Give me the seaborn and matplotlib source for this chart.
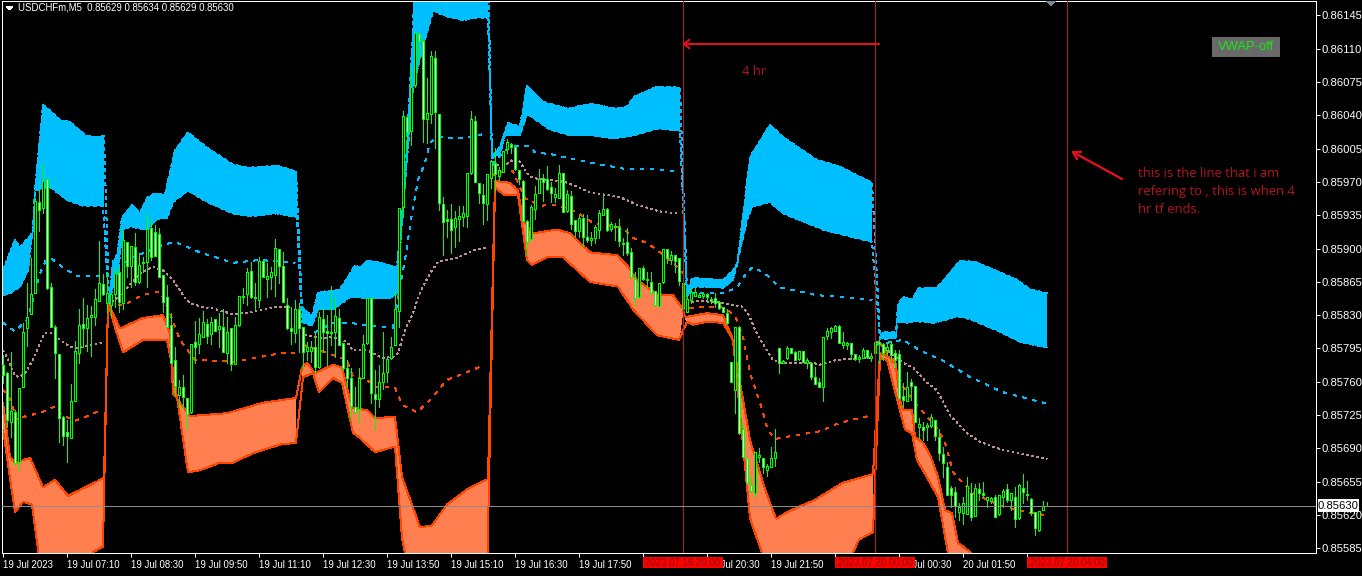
import numpy as np
import pandas as pd
import seaborn as sns
import matplotlib
matplotlib.use("Agg")
import matplotlib.pyplot as plt
from matplotlib.patches import Rectangle, Polygon, FancyArrowPatch

# ---- candle quotes in points (1 point = 0.00001), one per M5 bar ----
OPEN = [85778,85769,85718,85728,85676,85755,85816,85831,85853,85949,
85943,85973,85860,85818,85789,85723,85707,85701,85740,85790,
85821,85817,85828,85828,85845,85863,85843,85841,85852,85875,
85843,85907,85882,85902,85865,85886,85886,85922,85917,85915,
85872,85849,85820,85783,85746,85755,85743,85728,85802,85800,
85807,85821,85810,85826,85815,85818,85790,85816,85779,85820,
85849,85852,85876,85849,85846,85887,85868,85870,85872,85900,
85882,85841,85817,85811,85837,85818,85792,85792,85797,85776,
85826,85813,85812,85812,85827,85801,85775,85764,85734,85731,
85764,85801,85848,85747,85742,85760,85770,85785,85799,85834,
85944,86038,86023,86072,86125,86118,86036,86041,86100,86041,
85947,85931,85931,85923,85931,85933,85934,85979,86034,85969,
85956,85947,85974,85990,85976,85980,86005,86010,86007,85983,
85971,85929,85910,85942,85958,85974,85973,85965,85954,85953,
85979,85939,85955,85930,85918,85932,85912,85909,85911,85920,
85935,85942,85921,85923,85923,85906,85907,85896,85868,85849,
85880,85868,85865,85855,85840,85865,85900,85888,85893,85890,
85864,85833,85846,85850,85849,85850,85852,85847,85848,85844,
85839,85832,85781,85751,85818,85710,85680,85652,85643,85681,
85680,85667,85670,85680,85796,85780,85785,85796,85791,85784,
85792,85780,85780,85765,85760,85754,85808,85812,85813,85819,
85799,85799,85801,85789,85784,85785,85793,85785,85790,85802,
85800,85793,85800,85790,85789,85745,85740,85760,85756,85713,
85712,85712,85714,85720,85702,85684,85670,85648,85644,85623,
85622,85621,85643,85619,85647,85643,85636,85635,85639,85621,
85639,85647,85636,85639,85617,85648,85642,85637,85623,85604,85625,85629]
HIGH = [85788,85770,85791,85730,85753,85822,85864,85890,85953,85961,
85990,85974,85864,85820,85789,85724,85720,85758,85803,85836,
85848,85841,85840,85858,85908,85873,85875,85852,85880,85881,
85920,85907,85903,85916,85893,85891,85937,85930,85925,85922,
85872,85862,85832,85797,85762,85767,85743,85800,85824,85827,
85834,85826,85828,85826,85832,85836,85828,85817,85828,85850,
85859,85880,85886,85864,85891,85888,85885,85881,85910,85900,
85896,85848,85839,85846,85843,85818,85802,85803,85813,85833,
85838,85830,85861,85848,85837,85801,85783,85775,85755,85775,
85809,85848,85848,85772,85778,85812,85786,85807,85853,85943,
86045,86039,86091,86127,86126,86119,86079,86108,86108,86041,
85954,85941,85947,85939,85945,85945,85979,86044,86039,85969,
85968,85978,85993,86006,85986,86002,86015,86011,86007,85983,
85972,85930,85946,85966,85984,85978,85987,85970,85964,85988,
85979,85961,85960,85930,85935,85936,85935,85917,85925,85940,
85955,85943,85928,85927,85931,85911,85922,85901,85875,85880,
85882,85875,85875,85855,85864,85900,85900,85897,85893,85890,
85865,85853,85859,85859,85853,85854,85853,85849,85853,85845,
85839,85836,85781,85818,85818,85717,85680,85660,85686,85690,
85680,85674,85691,85710,85796,85783,85798,85796,85792,85792,
85792,85785,85780,85776,85764,85807,85817,85818,85820,85820,
85812,85802,85801,85789,85788,85795,85793,85790,85802,85804,
85801,85801,85803,85793,85793,85759,85770,85763,85756,85722,
85718,85717,85726,85720,85710,85691,85676,85650,85649,85633,
85639,85660,85654,85653,85654,85655,85639,85639,85641,85641,
85647,85653,85643,85649,85653,85663,85656,85638,85623,85624,85635,85634]
LOW = [85759,85712,85702,85673,85667,85755,85798,85831,85853,85918,
85937,85858,85818,85764,85697,85694,85676,85701,85740,85780,
85797,85792,85787,85820,85845,85851,85833,85828,85839,85833,
85836,85870,85860,85862,85864,85875,85860,85888,85892,85870,
85833,85818,85780,85746,85734,85731,85710,85727,85780,85790,
85807,85801,85800,85813,85797,85791,85780,85772,85779,85819,
85843,85841,85848,85836,85839,85870,85849,85857,85850,85864,
85844,85815,85800,85802,85791,85772,85783,85781,85769,85774,
85791,85778,85799,85786,85799,85772,85755,85720,85728,85718,
85764,85800,85738,85710,85733,85752,85760,85784,85799,85818,
85933,86001,86009,86070,86098,86012,86011,86032,86006,85941,
85893,85912,85895,85902,85908,85924,85923,85978,85970,85948,
85926,85930,85964,85959,85972,85980,86000,86000,85983,85968,
85929,85893,85909,85931,85958,85950,85962,85949,85949,85953,
85938,85938,85921,85913,85912,85903,85907,85904,85906,85911,
85935,85918,85918,85909,85903,85893,85893,85869,85841,85848,
85867,85860,85852,85840,85839,85864,85885,85884,85875,85862,
85825,85833,85843,85850,85849,85848,85846,85843,85839,85837,
85833,85822,85760,85727,85705,85681,85653,85643,85639,85676,
85664,85661,85670,85671,85769,85780,85784,85790,85783,85783,
85781,85774,85763,85758,85754,85740,85805,85806,85813,85801,
85795,85794,85784,85783,85781,85785,85785,85782,85781,85780,
85783,85788,85783,85776,85743,85733,85740,85741,85718,85701,
85699,85699,85713,85699,85678,85660,85641,85628,85618,85615,
85611,85621,85615,85619,85636,85639,85628,85633,85618,85620,
85629,85634,85625,85607,85616,85633,85636,85620,85599,85603,85625,85629]
CLOSE = [85767,85720,85729,85675,85753,85812,85828,85852,85950,85940,
85971,85859,85818,85790,85722,85703,85703,85740,85792,85820,
85816,85827,85830,85847,85864,85852,85853,85852,85874,85844,
85909,85882,85903,85865,85883,85885,85921,85891,85892,85870,
85844,85818,85780,85756,85754,85744,85726,85800,85797,85810,
85823,85808,85823,85813,85819,85791,85812,85779,85820,85850,
85850,85875,85849,85848,85887,85870,85871,85875,85901,85882,
85844,85816,85813,85837,85817,85791,85797,85797,85776,85828,
85812,85811,85811,85829,85799,85775,85764,85735,85728,85764,
85800,85848,85748,85742,85760,85769,85784,85797,85837,85943,
86039,86022,86070,86127,86118,86036,86042,86102,86043,85948,
85928,85929,85920,85932,85934,85937,85979,86036,85970,85958,
85948,85978,85992,85978,85983,86002,86012,86007,85984,85973,
85929,85907,85944,85957,85973,85970,85963,85958,85957,85979,
85938,85957,85926,85918,85932,85912,85909,85911,85923,85937,
85942,85920,85926,85924,85908,85905,85895,85870,85848,85880,
85868,85867,85853,85841,85864,85900,85890,85893,85887,85866,
85836,85847,85854,85854,85851,85852,85849,85845,85843,85838,
85833,85822,85760,85818,85706,85681,85654,85645,85686,85683,
85670,85671,85680,85686,85780,85782,85796,85790,85783,85792,
85781,85783,85765,85758,85754,85807,85813,85817,85819,85801,
85802,85801,85789,85784,85786,85793,85786,85787,85802,85800,
85790,85797,85788,85783,85743,85741,85755,85756,85718,85716,
85709,85715,85723,85703,85685,85675,85641,85641,85629,85628,
85633,85650,85618,85648,85643,85641,85639,85638,85618,85641,
85645,85636,85643,85616,85652,85644,85641,85622,85606,85624,85630,85630]

# ---- VWAP deviation bands and lines: bar position, price in points ----
BLUE_TOP_BAR = [0,3,4.25,7.5,8,10,11.75,14.25,16.75,20.5,23,25.25,
 26.5,27.5,28.5,29.75,32.25,34.25,36,38,40.5,43,46.25,51,57.5,61.75,68.5,73.25,
 74.75,77.25,78.75,84.25,88,89.25,91,93.5,98.5,99.25,100.5,102.5,103,121.25,
 122.25,124.25,126.25,129.25,131,135,141.25,146.75,153.5,156,158,163.5,169.25,
 171,172.25,180,183.5,186.75,191.75,195,203.5,209.25,217.25,
 219.25,220,223.25,223.75,225,227.25,228.75,233.5,235.25,239.25,243,249.25,253.5,256.75,261]
BLUE_TOP = [85877,85909,85901,85917,85961,86051,86045,86035,86033,86019,86017,86018,
 85846,85886,85893,85932,85946,85937,85953,85958,85957,86003,86022,86006,85988,85985,85987,85981,
 85838,85829,85854,85857,85882,85880,85887,85886,85880,85916,85972,86130,86192,86192,
 85996,86007,86032,86028,86071,86054,86047,86052,86047,86049,86060,86070,86069,
 85853,85869,85867,85881,85996,86030,86017,85993,85986,85969,
 85807,85812,85812,85841,85849,85846,85858,85859,85867,85887,85886,85875,85867,85857,85853]
BLUE_IN_BAR = [0,1.75,4.25,6.25,7.5,8,11.75,16,20,25,
 26.5,27.5,28.75,30,31.75,36,38.5,41,42.5,46.25,51,57.5,61.75,68.5,73.5,
 74.75,77.25,78.75,82.5,86.75,91.75,96.75,98.5,100,102.5,104.75,107.5,111,115,119.25,121.25,
 122.25,124.25,125.5,129.25,131,136.75,141.75,147.5,152.5,156.75,163.5,169.25,
 171,172.5,180,182.5,186,187.25,191.75,195,205,217.25,
 219.25,223.25,223.5,226.75,227.5,232.5,235.5,238.5,241.75,248.5,254.25,261]
BLUE_IN = [85851,85853,85860,85877,85923,85961,85965,85951,85945,85945,
 85841,85862,85877,85920,85923,85920,85931,85932,85949,85961,85949,85937,85934,85937,85933,
 85823,85819,85836,85836,85849,85848,85848,85853,85944,86070,86108,86150,86144,86140,86143,86142,
 85995,86000,86019,86019,86042,86025,86019,86019,86016,86018,86026,86024,
 85849,85860,85859,85867,85930,85944,85949,85937,85920,85907,
 85805,85806,85823,85822,85824,85822,85825,85829,85826,85814,85802,85796]
CORAL_IN_BAR = [0,1.75,3,6.75,10,13,16.25,21,25.25,
 26.25,29.25,35,40,41.75,42.5,46.75,56,65,73.25,
 74.75,76,78,82.5,84.75,87.25,91,93,98,99.75,104.25,107.25,111,116,121.25,
 123,126.75,128.75,130,132.5,138.5,141.75,146.75,153.5,156.25,158.5,163.5,167.5,170,
 170.5,176,180,182.25,186.75,190.5,193.25,196,203,210,217.5,
 219.25,223,224.25,225,227.25,228,230,231.75,233.75,235.5,237.25,238.75,241.75,244.25,261]
CORAL_IN = [85738,85681,85675,85680,85649,85657,85640,85650,85659,
 85843,85816,85827,85830,85811,85748,85724,85727,85738,85743,
 85775,85780,85769,85778,85775,85733,85730,85722,85723,85660,85607,85609,85631,85647,85658,
 85971,85969,85961,85930,85916,85920,85916,85896,85893,85881,85867,85852,85851,85836,
 85828,85832,85830,85807,85699,85647,85616,85623,85636,85654,85663,
 85790,85783,85741,85730,85730,85702,85696,85683,85660,85625,85622,85591,85581,85562,85531]
CORAL_LOW_BAR = [0,3,5,7.25,9.75,21.75,22.5,25,
 26.25,28,30,35,41,42.5,46.25,49.25,54.25,57.5,62.5,69.25,73.25,
 75,77.5,79,82.5,84.75,87.5,89.25,93,98,99.75,101.75,121,
 123,125.5,128.75,131,132.25,136,140,146.75,153.75,157.5,163.5,169,
 171,172.5,176,180,182.5,186.75,189.75,191.25,209.25,214,217.5,
 219.25,221,223.75,225.5,227.25,228.5,231.75,233.75,236.25,238,261]
CORAL_LOW = [85710,85623,85634,85631,85552,85552,85581,85587,
 85843,85817,85791,85804,85804,85772,85665,85667,85675,85675,85685,85694,85696,
 85765,85769,85749,85764,85759,85706,85701,85686,85692,85596,85552,85552,
 85964,85956,85956,85888,85883,85891,85891,85865,85860,85836,85809,85804,
 85823,85820,85823,85822,85804,85617,85580,85552,85552,85594,85602,
 85785,85783,85738,85710,85706,85678,85654,85639,85580,85552,85489]
MID_BAR = [0,1,2,3,4.25,5.5,7.5,9.75,10.5,12.25,14.25,16,18,21,24.75,
 26.25,28,30.5,34.25,37.5,40,42.5,45.5,46.75,49.25,52.5,57.5,61.75,68.5,71.75,
 75.5,79.25,82.25,86,87.5,91.25,94.75,97.5,98.75,100.5,102.5,104.25,106.75,108.75,113.5,117.5,121,
 122.25,125.5,126.75,128,129.25,131,132.5,140.5,146.75,154.25,158.5,164.25,168.75,
 171,174.25,180,184.75,186.25,188,190.5,192.5,194.25,202.5,204.25,208.5,216.75,
 218.5,225,227.5,231,233.5,236.75,241,244.25,250,256,261]
MID = [85793,85786,85776,85766,85765,85769,85783,85806,85811,85811,85804,85799,85795,85798,85801,
 85841,85846,85856,85874,85881,85877,85867,85848,85843,85839,85837,85831,85833,85839,85839,
 85809,85806,85807,85802,85793,85793,85785,85786,85790,85814,85832,85854,85874,85886,85890,85898,85901,
 85988,85988,85991,85995,85991,85979,85974,85970,85959,85954,85946,85939,85937,
 85843,85845,85843,85839,85832,85815,85796,85783,85780,85780,85778,85783,85785,
 85802,85780,85775,85759,85751,85725,85706,85697,85688,85683,85679]
DEV_UP_BAR = [0,3,6,7.5,9.25,10.75,12.25,15,18.5,22.5,24.75,
 28,31.75,35,40,43,49.25,57.5,64.25,73,
 78,82.5,86.75,90,96.75,97.5,99.25,100.5,102.25,103.75,105.5,106.75,108.5,112.5,116.25,121,
 122.25,125.5,128,130,131.75,133,137.25,142.5,148.5,155,161.75,168,
 171.75,180,183.5,186,187.5,191,194.25,203.5,212.5,217.25,
 218.5,223.75,225,229.25,235.5,241.75,250,261]
DEV_UP = [85822,85813,85825,85846,85874,85888,85889,85880,85871,85871,85872,
 85877,85890,85895,85904,85907,85896,85885,85888,85885,
 85812,85822,85822,85820,85817,85817,85860,85888,85937,85972,85990,86011,86017,86016,86017,86021,
 85988,86003,86008,86008,86007,86001,85999,85994,85989,85984,85984,85981,
 85853,85853,85859,85875,85881,85872,85859,85851,85848,85846,
 85799,85803,85804,85793,85781,85765,85749,85737]
DEV_DN_BAR = [0,1.75,3.5,5,9.75,13,14.75,18,21.25,24.75,
 26.25,30.5,34.25,37.5,39.25,41.75,44.25,48,52.5,57.5,64.25,69.25,73,
 75,80.5,86,87.5,91,93.5,98,99.75,103.5,106.75,111,116,120,
 122.25,125.5,127.5,130.5,134.25,138.5,143.5,147.5,155,157.5,161,164.25,167.5,170,
 171.75,175,180,183,185,186.75,189.25,191.25,193,198.5,204.25,209.25,217.25,
 219.25,222.5,225,228.75,233.75,235.5,237.5,239.25,242.5,246,250,256,260.5]
DEV_DN = [85752,85741,85720,85723,85728,85734,85725,85719,85724,85731,
 85841,85841,85850,85854,85855,85832,85804,85783,85782,85781,85786,85790,85790,
 85799,85791,85783,85765,85762,85754,85754,85736,85728,85741,85762,85770,85777,
 85977,85982,85981,85953,85945,85946,85938,85927,85922,85911,85906,85896,85885,85874,
 85837,85839,85838,85830,85807,85769,85738,85709,85700,85704,85708,85717,85725,
 85801,85780,85755,85734,85710,85696,85665,85657,85643,85636,85629,85623,85620]
SESSION_EDGES = [0, 26, 74.5, 122, 170.25, 218, 262]
H4_CLOSE_BARS = [170, 218, 266]
H4_LABELS = ["2023.07.19 20:00", "2023.07.20 00:00", "2023.07.20 04:00"]
TIME_LABELS = ["19 Jul 2023","19 Jul 07:10","19 Jul 08:30","19 Jul 09:50","19 Jul 11:10",
 "19 Jul 12:30","19 Jul 13:50","19 Jul 15:10","19 Jul 16:30","19 Jul 17:50","19 Jul 19:10",
 "19 Jul 20:30","19 Jul 21:50","19 Jul 23:10","20 Jul 00:30","20 Jul 01:50","20 Jul 03:10"]
TIME_TICK_BARS = list(range(0, 257, 16))
PRICE_TICKS = [85585 + 35 * i for i in range(17)]
LAST_PRICE = 85630

W, H = 1362, 576
sns.set_theme(style="ticks", rc={"figure.facecolor": "black", "axes.facecolor": "black",
                                 "savefig.facecolor": "black", "axes.edgecolor": "white"})
plt.rcParams["font.family"] = ["Liberation Sans", "DejaVu Sans"]
PX = 0.72  # one pixel in points at 100 dpi

fig = plt.figure(figsize=(W / 100, H / 100), dpi=100)
ax = fig.add_axes([2 / W, (H - 553) / H, 1314 / W, 552 / H])
ax.set_xlim(-0.25, 328.25)
ax.set_ylim(0.855801, 0.861601)
for s in ax.spines.values():
    s.set_color("white")
    s.set_linewidth(PX)

def fx(px):
    return px / W
def fy(py):
    return 1 - py / H

def scale(values):
    return np.asarray(values, dtype=float) / 1e5

def band(top_bar, top, low_bar, low, face, edge, dash):
    tb, tv = np.asarray(top_bar, float), scale(top)
    lb, lv = np.asarray(low_bar, float), scale(low)
    for a, b in zip(SESSION_EDGES[:-1], SESSION_EDGES[1:]):
        mt = (tb >= a) & (tb < b)
        ml = (lb >= a) & (lb < b)
        pts = np.vstack([np.column_stack([tb[mt], tv[mt]]),
                         np.column_stack([lb[ml][::-1], lv[ml][::-1]])])
        ax.add_patch(Polygon(pts, closed=True, facecolor=face, edgecolor="none",
                             antialiased=False, zorder=1))
    for xs, ys in ((tb, tv), (lb, lv)):
        sns.lineplot(x=xs, y=ys, ax=ax, color=edge, estimator=None, sort=False, linewidth=PX,
                     linestyle=(0, dash), antialiased=False, legend=False, zorder=1.5)

band(BLUE_TOP_BAR, BLUE_TOP, BLUE_IN_BAR, BLUE_IN, "#00bfff", "#00bfff", (3, 3))
band(CORAL_IN_BAR, CORAL_IN, CORAL_LOW_BAR, CORAL_LOW, "#ff7f50", "#ff4500", (2, 1))

def dashed(xs, ys, colour, dash):
    xs = np.asarray(xs, float)
    ys = scale(ys)
    for a, b in zip(SESSION_EDGES[:-1], SESSION_EDGES[1:]):
        m = (xs >= a) & (xs < b)
        sns.lineplot(x=xs[m], y=ys[m], ax=ax, color=colour, estimator=None, sort=False,
                     linewidth=PX, linestyle=(0, dash), antialiased=False,
                     legend=False, zorder=2)

dashed(MID_BAR, MID, "#bc8f8f", (2, 4))
dashed(DEV_UP_BAR, DEV_UP, "#00bfff", (3, 6))
dashed(DEV_DN_BAR, DEV_DN, "#ff4500", (3, 6))

# candles
o, h, l, c = scale(OPEN), scale(HIGH), scale(LOW), scale(CLOSE)
bars = np.arange(len(o))
ax.vlines(bars, l, h, color="#00ff00", linewidth=PX, antialiased=False, zorder=3)
fills = np.where(c < o, "white", "black")
ax.bar(bars, np.abs(c - o), width=0.5, bottom=np.minimum(o, c), color=fills,
       edgecolor="#00ff00", linewidth=PX, antialiased=False, zorder=4)

# 4h period-end lines, last price line
for b in H4_CLOSE_BARS:
    ax.axvline(b, color="#c01818", linewidth=PX, zorder=5, antialiased=False)
ax.axhline(LAST_PRICE / 1e5, color="#8c8c8c", linewidth=PX, zorder=5, antialiased=False)

# axes ticks
ax.yaxis.tick_right()
ax.set_yticks(scale(PRICE_TICKS))
ax.set_yticklabels([f"{v / 1e5:.5f}" for v in PRICE_TICKS])
ax.tick_params(axis="y", colors="white", labelsize=8.1, length=3, width=PX, pad=1.2, right=True)
ax.set_xticks(TIME_TICK_BARS)
ax.set_xticklabels(TIME_LABELS, ha="left")
ax.tick_params(axis="x", colors="white", labelsize=6.9, length=3, width=PX, pad=2, bottom=True)
ax.set_xlabel("")
ax.set_ylabel("")

tf = fig.transFigure
# red period labels centred under the 4h lines
for b, lab in zip(H4_CLOSE_BARS, H4_LABELS):
    cx = 3 + 4 * b
    ax.add_patch(Rectangle((fx(cx - 40), fy(568)), 80 / W, 11 / H, transform=tf, facecolor="#ff0000",
                           edgecolor="none", clip_on=False, zorder=10, antialiased=False))
    ax.text(fx(cx), fy(562.5), lab, transform=tf, color="#8b0000", fontsize=6.9, ha="center",
            va="center", zorder=11, clip_on=False)

# last price tag
ax.add_patch(Rectangle((fx(1318), fy(512)), 41 / W, 13 / H, transform=tf, facecolor="white",
                       edgecolor="none", clip_on=False, zorder=10, antialiased=False))
ax.text(fx(1338.5), fy(505.7), f"{LAST_PRICE / 1e5:.5f}", transform=tf, color="black",
        fontsize=8.1, ha="center", va="center", zorder=11)

# header
ax.add_patch(Polygon([(fx(6), fy(6)), (fx(13), fy(6)), (fx(9.5), fy(10))], transform=tf,
                     facecolor="white", edgecolor="none", zorder=10, antialiased=False))
ax.text(fx(18), fy(8), "USDCHFm,M5  0.85629 0.85634 0.85629 0.85630", transform=tf,
        color="white", fontsize=6.9, ha="left", va="center", zorder=11)
# chart-shift marker
ax.add_patch(Polygon([(fx(1046), fy(1)), (fx(1056), fy(1)), (fx(1051), fy(6))], transform=tf,
                     facecolor="#778899", edgecolor="none", zorder=10, antialiased=False))

# VWAP button
ax.add_patch(Rectangle((fx(1212), fy(57)), 68 / W, 20 / H, transform=tf, facecolor="#696969",
                       edgecolor="none", zorder=10, antialiased=False))
ax.text(fx(1246), fy(47), "VWAP-off", transform=tf, color="#19e619", fontsize=9.4,
        ha="center", va="center", zorder=11)

# hand-drawn arrows and notes
ARROW = "#e0101e"
NOTE = "#b4141e"
ax.add_patch(FancyArrowPatch((fx(879), fy(44)), (fx(682), fy(44)), transform=tf,
                             arrowstyle="->,head_length=4,head_width=3", color=ARROW,
                             linewidth=1.5, shrinkA=0, shrinkB=0, zorder=12))
ax.add_patch(FancyArrowPatch((fx(1122), fy(179)), (fx(1071), fy(151)), transform=tf,
                             arrowstyle="->,head_length=5,head_width=3", color=ARROW,
                             linewidth=1.7, shrinkA=0, shrinkB=0, zorder=12))
ax.text(fx(742), fy(71.5), "4 hr", transform=tf, color=NOTE, fontsize=9.4, ha="left",
        va="center", family="Open Sans", zorder=12)
for py, line in zip((173.5, 191.5, 210), ("this is the line that i am",
                                          "refering to , this is when 4",
                                          "hr tf ends.")):
    ax.text(fx(1138), fy(py), line, transform=tf, color=NOTE, fontsize=9.4, ha="left",
            va="center", family="Open Sans", zorder=12)

fig.savefig("out.png", dpi=100)
